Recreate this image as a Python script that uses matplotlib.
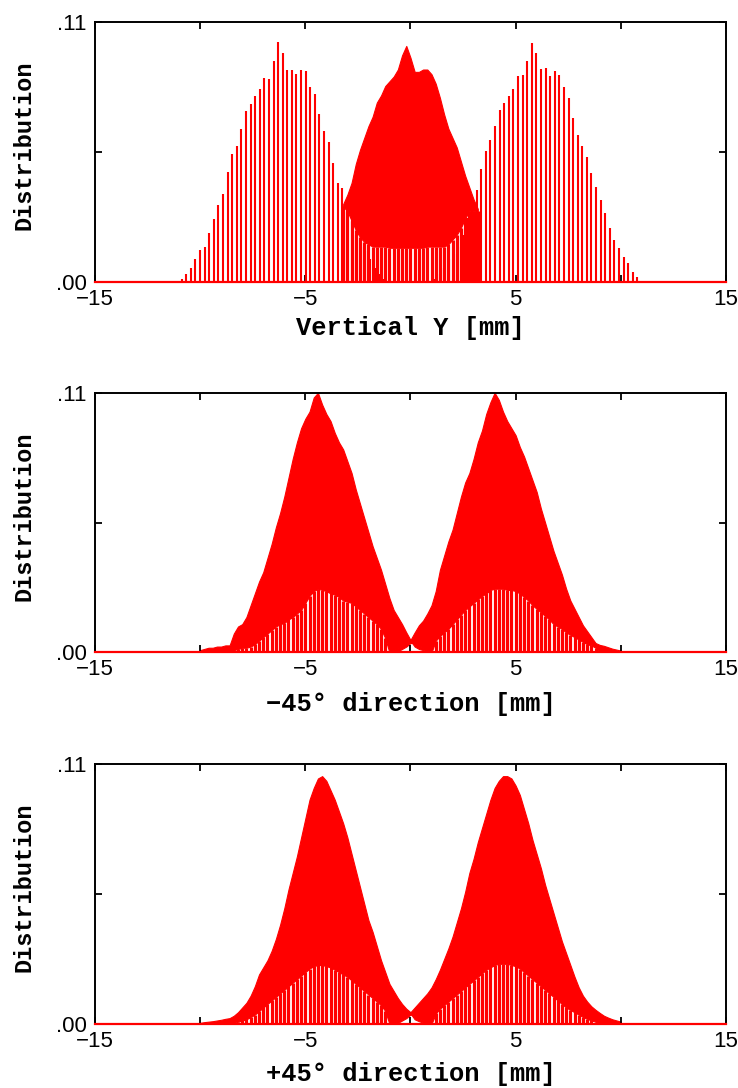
import numpy as np
import matplotlib
matplotlib.use("Agg")
import matplotlib.pyplot as plt

RED = "#ff0000"
STEP = 0.2        # bin spacing of the dense histograms [mm]
COMB_STEP = 0.2184  # spacing of the comb peaks in the vertical scan [mm]

# ---- vertical scan: two comb distributions + dense central one (values x 1e-3)
v_left_start = -10.88
v_left_top = [1.3, 3.3, 5.9, 9.9, 13.4, 15, 20.8, 26.7, 32.8, 37.3, 46.6, 54.3,
              57.7, 64.8, 72.4, 75.6, 78.9, 81.7, 86.2, 85.8, 93.6, 101.7, 97,
              89.8, 90, 87.9, 89.9, 89.2, 82.8, 79.7, 71, 64, 59.1, 50.5, 42,
              40, 33, 27, 20, 15, 13, 9.9, 5.9, 3.3, 1.3]
v_right_start = 1.18
v_right_top = [1.3, 3.3, 5.9, 9.9, 12, 15, 20, 27, 33, 39, 47.8, 55.3, 60.2,
               65.9, 72.9, 75.8, 78.6, 81.7, 87.1, 87.7, 93.4, 101.2, 97, 90.2,
               90.6, 87.1, 89.2, 87.8, 82.8, 77.9, 69.4, 62.3, 57.4, 53.1, 46.1,
               40.4, 34.8, 29.1, 22.8, 17.8, 14.3, 10.7, 7.9, 4.4, 2.2]
v_mid_start = -3.2
v_mid_top = [33, 37, 42, 50, 56, 61, 66, 70, 76, 79, 83, 85, 87, 90, 96, 100,
             95, 89, 89, 90, 90, 88, 84, 78, 71, 65, 61, 57, 51, 45, 40, 35, 31]
v_mid_low = [32, 30, 26, 22, 19, 17, 16, 15, 15, 15, 15, 14.5, 14.5, 14.5,
             14.5, 14.5, 14.5, 14.5, 14.5, 14.5, 15, 15, 15, 15, 15, 16, 18,
             20, 23, 27, 30, 30, 30]

# ---- -45 deg scan
m_left_start = -10.0
m_left_top = [1, 1.5, 2, 2, 2.5, 2.5, 3, 3,
              8, 11, 12, 15, 20, 25, 30, 34,
              40, 46, 53, 59, 66, 74, 82, 89,
              95, 99, 102, 108, 110, 105, 101, 98,
              93, 89, 86, 81, 76, 69, 63, 57,
              51, 45, 40, 35, 29, 23, 18, 15,
              12, 8.5, 5.3, 4, 3, 2, 1, 0]
m_left_low = [0, 0, 0, 0, 0, 0, 0, 0,
              1, 1.5, 2, 2, 2.5, 3.5, 5, 6.5,
              8, 9.5, 11, 12, 12.5, 14, 15, 16.5,
              18, 21, 24, 26, 27, 26.5, 26, 25,
              24.5, 23.5, 22, 21.5, 21, 19.5, 18, 16.5,
              15, 13.5, 12, 10, 6, 0, 1, 2,
              3, 4, 5, 2.5, 1.5, 1, 0.5, 0]
m_right_start = -1.0
m_right_top = [0, 1, 2, 3, 4, 5.3, 8.5, 11.5,
               13.5, 16.5, 20, 26, 35, 41, 47, 52,
               59, 66, 72, 76, 82, 89, 94, 101,
               106, 110, 107, 102, 98, 95, 92, 87,
               83, 78, 73, 68, 61, 55, 49, 43,
               38, 33, 27, 22, 18.5, 15, 11.5, 9,
               6.5, 4, 3.2, 2.8, 2.2, 1.6, 1.2, 0.8]
m_right_low = [0, 0, 0.5, 1.5, 2.5, 4, 4, 3,
               2, 1, 0, 5, 7, 8.5, 10, 12,
               14, 16, 18, 19.5, 21, 22.5, 24, 25,
               26.5, 27, 27, 27, 26.5, 26.5, 26, 25,
               23.5, 22, 20, 18.5, 17, 15.5, 14, 12,
               11, 10, 8.5, 7.5, 6.5, 5.5, 4.5, 3.5,
               3, 2, 0, 0, 0, 0, 0, 0]

# ---- +45 deg scan
p_left_start = -10.0
p_left_top = [0.5, 0.8, 1, 1.2, 1.5, 1.8, 2.2, 2.5,
              3.5, 5, 7, 9, 12, 16, 21, 24,
              27, 31, 36, 42, 49, 57, 64, 71,
              79, 87, 95, 100, 104, 105, 103, 99,
              95, 90, 85, 79, 72, 65, 58, 51,
              44, 39, 33, 27, 22, 17, 14, 11,
              8.5, 6.5, 5, 3.5, 2.5, 1.5, 0.8, 0]
p_left_low = [0, 0, 0, 0, 0, 0, 0, 0,
              0.5, 1, 1.5, 2, 3, 4, 5.5, 7,
              8.5, 10, 11.5, 13, 14.5, 16, 17.5, 19,
              20.5, 22, 23.5, 24.5, 25, 25, 24.5, 24,
              23, 22, 21, 20, 18.5, 17, 15.5, 14,
              12.5, 11, 9.5, 8, 5.5, 0, 1, 2,
              3, 4, 4.5, 2, 1.2, 0.6, 0.2, 0]
p_right_start = -1.0
p_right_top = [0, 1, 2, 3, 4, 5, 7, 9,
               11, 13, 15.5, 19, 23, 27.5, 32, 37,
               43, 49, 56, 64, 70, 77, 83, 89,
               95, 100, 103, 105, 105, 104, 101, 97,
               91, 85, 78, 72, 66, 59, 53, 47,
               41, 35, 30, 25, 20, 15.5, 12, 9.5,
               7.5, 6, 4.7, 3.5, 2.7, 2, 1.5, 1]
p_right_low = [0, 0, 0.5, 1.5, 2.5, 4, 3.5, 2.5,
               1.5, 0.8, 0, 4.5, 6.5, 8, 9.5, 11,
               12.5, 14, 15.5, 17, 18.5, 20, 21.5, 23,
               24, 25, 25.5, 25.5, 25.5, 25, 24.5, 23.5,
               22, 20.5, 19, 17.5, 16, 14.5, 13, 11.5,
               10, 8.5, 7, 6, 5, 4, 3, 2.2,
               1.5, 1, 0, 0, 0, 0, 0, 0]

x_labels = ["Vertical Y [mm]", "\u221245\u00b0 direction [mm]",
            "+45\u00b0 direction [mm]"]
x_ticks = [-15, -10, -5, 0, 5, 10, 15]
x_ticklabels = ["\u221215", "", "\u22125", "", "5", "", "15"]
y_ticks = [0, 0.055, 0.11]
y_ticklabels = [".00", "", ".11"]


def grid(start, n, step):
    return start + step * np.arange(n)


def comb(ax, start, tops):
    t = np.array(tops) * 1e-3
    x = grid(start, len(t), COMB_STEP)
    ax.vlines(x, 0, t, color=RED, lw=1.5)


def dense(ax, x, tops, lows, cols):
    t = np.array(tops) * 1e-3
    lo = np.array(lows) * 1e-3
    ax.fill_between(x, lo, t, color=RED, lw=0.8, edgecolor=RED)
    ax.vlines(x[cols], 0, lo[cols], color=RED, lw=2.3, capstyle="butt")


def pair(ax, ls, ltop, llow, rs, rtop, rlow):
    xl = grid(ls, len(ltop), STEP)
    xr = grid(rs, len(rtop), STEP)
    # columns reaching zero only outside the overlap of the two peaks
    dense(ax, xl, ltop, llow, xl < xr[0] - 1e-6)
    dense(ax, xr, rtop, rlow, xr > xl[-1] + 1e-6)


fig = plt.figure(figsize=(7.38, 10.88), dpi=100)
bottoms = [0.7408, 0.4003, 0.0588]
axes = [fig.add_axes([0.1287, b, 0.855, 0.2387]) for b in bottoms]

ax = axes[0]
comb(ax, v_left_start, v_left_top)
comb(ax, v_right_start, v_right_top)
xm = grid(v_mid_start, len(v_mid_top), STEP)
dense(ax, xm, v_mid_top, v_mid_low, np.ones(len(xm), bool))

pair(axes[1], m_left_start, m_left_top, m_left_low,
     m_right_start, m_right_top, m_right_low)
pair(axes[2], p_left_start, p_left_top, p_left_low,
     p_right_start, p_right_top, p_right_low)

mono = ["Liberation Mono", "DejaVu Sans"]
for ax, lab, pad in zip(axes, x_labels, [4, 8, 7]):
    ax.set_xlim(-15, 15)
    ax.set_ylim(0, 0.11)
    ax.plot(ax.get_xlim(), [0, 0], color=RED, lw=1.6, clip_on=False, zorder=3)
    ax.set_xticks(x_ticks)
    ax.set_xticklabels(x_ticklabels)
    ax.set_yticks(y_ticks)
    ax.set_yticklabels(y_ticklabels)
    ax.tick_params(direction="in", top=True, right=True, length=5, width=1.3,
                   labelsize=16)
    ax.tick_params(axis="x", pad=5)
    ax.tick_params(axis="y", pad=6)
    for t in ax.get_xticklabels() + ax.get_yticklabels():
        t.set_family("Liberation Sans")
    for s in ax.spines.values():
        s.set_linewidth(1.4)
    ax.set_xlabel(lab, family=mono, size=18.3, weight="bold", labelpad=pad)
    ax.set_ylabel("Distribution", family=mono, size=17, weight="bold")
    ax.yaxis.set_label_coords(-0.095, 0.525)

fig.savefig("out.png", dpi=100)
